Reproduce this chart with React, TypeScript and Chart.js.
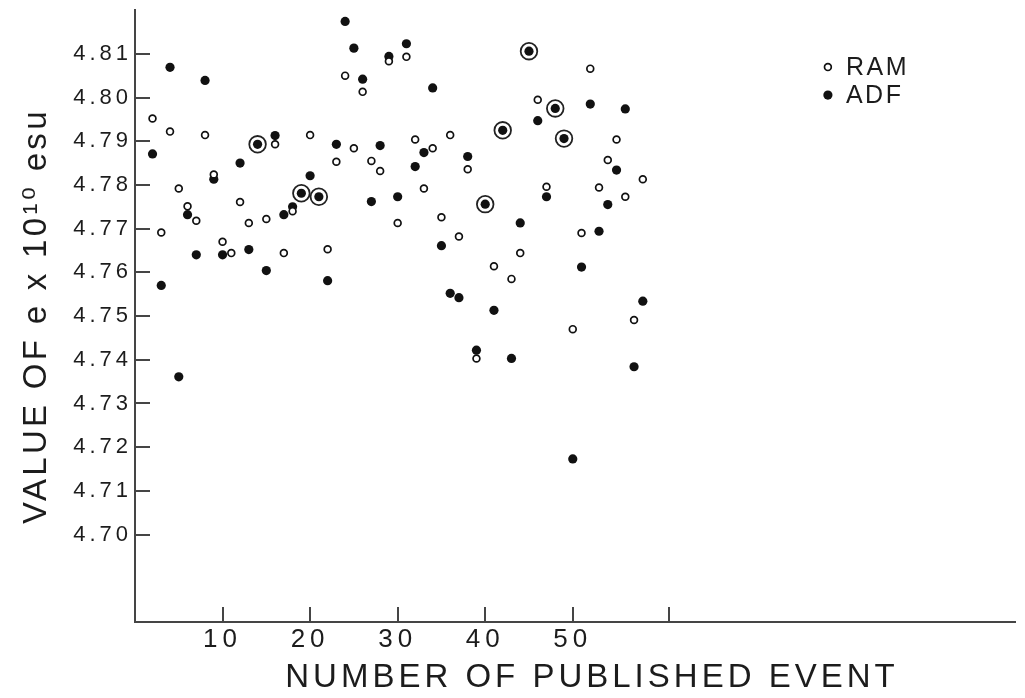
import React, { useEffect, useRef } from "react";
import { Chart, registerables } from "chart.js";

Chart.register(...registerables);

// ---- data (event number, value of e x 10^10 esu) ----
const ramEvents = [2, 3, 4, 5, 6, 7, 8, 9, 10, 11, 12, 13, 15, 16, 17, 18, 20, 22, 23, 24, 25, 26, 27, 28, 29, 30, 31, 32, 33, 34, 35, 36, 37, 38, 39, 41, 43, 44, 46, 47, 50, 51, 52, 53, 54, 55, 56, 57, 58];
const ramValues = [4.7952, 4.7691, 4.7922, 4.7792, 4.7751, 4.7718, 4.7914, 4.7824, 4.767, 4.7644, 4.7761, 4.7713, 4.7722, 4.7893, 4.7644, 4.774, 4.7914, 4.7653, 4.7853, 4.805, 4.7884, 4.8013, 4.7855, 4.7832, 4.8083, 4.7713, 4.8093, 4.7904, 4.7792, 4.7884, 4.7726, 4.7914, 4.7682, 4.7836, 4.7403, 4.7614, 4.7585, 4.7644, 4.7995, 4.7796, 4.747, 4.769, 4.8066, 4.7794, 4.7857, 4.7904, 4.7773, 4.7491, 4.7813];

const adfEvents = [2, 3, 4, 5, 6, 7, 8, 9, 10, 12, 13, 15, 16, 17, 18, 20, 22, 23, 24, 25, 26, 27, 28, 29, 30, 31, 32, 33, 34, 35, 36, 37, 38, 39, 41, 43, 44, 46, 47, 50, 51, 52, 53, 54, 55, 56, 57, 58];
const adfValues = [4.7871, 4.757, 4.8069, 4.7361, 4.7732, 4.764, 4.8039, 4.7813, 4.764, 4.785, 4.7652, 4.7604, 4.7913, 4.7732, 4.775, 4.7821, 4.7581, 4.7893, 4.8174, 4.8113, 4.8042, 4.7762, 4.789, 4.8094, 4.7773, 4.8123, 4.7842, 4.7874, 4.8022, 4.7661, 4.7552, 4.7542, 4.7865, 4.7422, 4.7513, 4.7403, 4.7713, 4.7947, 4.7773, 4.7173, 4.7612, 4.7985, 4.7694, 4.7755, 4.7834, 4.7974, 4.7384, 4.7534];

// events where RAM and ADF coincide (ringed dots)
const bothEvents = [14, 19, 21, 40, 42, 45, 48, 49];
const bothValues = [4.7893, 4.7781, 4.7773, 4.7756, 4.7925, 4.8106, 4.7975, 4.7906];

const xTickValues = [10, 20, 30, 40, 50, 61];
const xTickLabels = ["10", "20", "30", "40", "50", ""];
const yTickValues = [4.7, 4.71, 4.72, 4.73, 4.74, 4.75, 4.76, 4.77, 4.78, 4.79, 4.8, 4.81];
const yTickLabels = ["4.70", "4.71", "4.72", "4.73", "4.74", "4.75", "4.76", "4.77", "4.78", "4.79", "4.80", "4.81"];

const seriesLabels = ["RAM", "ADF"];
const xTitle = "NUMBER OF PUBLISHED EVENT";
const yTitle = "VALUE OF e x 10\u00B9\u2070 esu";

const FONT = '"Liberation Sans", "DejaVu Sans", Arial, sans-serif';
const INK = "#1c1c1c";
const AXIS = "#454545";

const pts = (xs: number[], ys: number[]) => xs.map((x, i) => ({ x, y: ys[i] }));

function withSpacing(ctx: CanvasRenderingContext2D, px: number, fn: () => void) {
  const c: any = ctx;
  const prev = c.letterSpacing;
  c.letterSpacing = px + "px";
  fn();
  c.letterSpacing = prev || "0px";
}

const spacingPlugin = {
  id: "letterSpacingPatch",
  beforeDraw(chart: any) {
    const ctx = chart.ctx;
    const cfg: Record<string, { tick: number; title: number; shift: number }> = {
      x: { tick: 5, title: 4, shift: 17 },
      y: { tick: 4, title: 3.3, shift: 0 },
    };
    Object.keys(cfg).forEach((id) => {
      const s = chart.scales[id];
      if (!s || s._lsPatched) return;
      const c = cfg[id];
      const dl = s.drawLabels.bind(s);
      const dt = s.drawTitle.bind(s);
      s.drawLabels = (area: any) => withSpacing(ctx, c.tick, () => dl(area));
      s.drawTitle = () =>
        withSpacing(ctx, c.title, () => {
          ctx.save();
          ctx.translate(c.shift, 0);
          dt();
          ctx.restore();
        });
      s._lsPatched = true;
    });
  },
};

const legendPlugin = {
  id: "cornerLegend",
  afterDraw(chart: any) {
    const { ctx, chartArea } = chart;
    const mx = chartArea.right - 187;
    let y = chartArea.top + 57;
    ctx.save();
    ctx.font = `25px ${FONT}`;
    ctx.textBaseline = "middle";
    ctx.textAlign = "left";
    chart.data.datasets.slice(0, 2).forEach((ds: any) => {
      ctx.beginPath();
      ctx.arc(mx, y, ds.pointRadius, 0, Math.PI * 2);
      ctx.fillStyle = ds.pointBackgroundColor;
      ctx.fill();
      if (ds.pointBorderWidth > 0) {
        ctx.lineWidth = ds.pointBorderWidth;
        ctx.strokeStyle = ds.pointBorderColor;
        ctx.stroke();
      }
      ctx.fillStyle = INK;
      withSpacing(ctx, 2.5, () => ctx.fillText(ds.label, mx + 18, y + 1));
      y += 28;
    });
    ctx.restore();
  },
};

const noPad = (s: any) => {
  s.paddingTop = 0;
  s.paddingBottom = 0;
  s.paddingLeft = 0;
  s.paddingRight = 0;
};

export default function App() {
  const ref = useRef<HTMLCanvasElement | null>(null);

  useEffect(() => {
    document.body.style.margin = "0";
    const canvas = ref.current;
    if (!canvas) return;

    const tickGrid = {
      drawOnChartArea: false,
      drawTicks: true,
      tickLength: -15,
      color: AXIS,
      lineWidth: 2,
    };
    const border = { display: true, color: AXIS, width: 2 };

    const chart = new Chart(canvas, {
      type: "scatter",
      data: {
        datasets: [
          {
            label: seriesLabels[0],
            data: pts(ramEvents, ramValues),
            pointRadius: 3.4,
            pointBorderWidth: 1.7,
            pointBackgroundColor: "#ffffff",
            pointBorderColor: "#111111",
            showLine: false,
          } as any,
          {
            label: seriesLabels[1],
            data: pts(adfEvents, adfValues),
            pointRadius: 4.6,
            pointBorderWidth: 0,
            pointBackgroundColor: "#111111",
            pointBorderColor: "#111111",
            showLine: false,
          },
          {
            label: "both",
            data: pts(bothEvents, bothValues),
            pointRadius: 4.6,
            pointBorderWidth: 0,
            pointBackgroundColor: "#111111",
            pointBorderColor: "#111111",
            showLine: false,
          },
          {
            label: "both-ring",
            data: pts(bothEvents, bothValues),
            pointRadius: 8.3,
            pointBorderWidth: 1.8,
            pointBackgroundColor: "rgba(0,0,0,0)",
            pointBorderColor: "#222222",
            showLine: false,
          },
        ],
      },
      options: {
        animation: false,
        responsive: false,
        devicePixelRatio: 1,
        events: [],
        layout: { padding: { left: 0, top: 7, right: 4, bottom: 0 } },
        plugins: {
          legend: { display: false },
          tooltip: { enabled: false },
          title: { display: false },
        },
        scales: {
          x: {
            type: "linear",
            min: 0,
            max: 100.5,
            afterBuildTicks: (s: any) => {
              s.ticks = xTickValues.map((v) => ({ value: v }));
            },
            afterFit: (s: any) => {
              s.height = 76;
              noPad(s);
            },
            ticks: {
              callback: (_v: any, i: number) => xTickLabels[i],
              font: { family: FONT, size: 26 },
              color: INK,
              padding: 17,
              maxRotation: 0,
              autoSkip: false,
            },
            grid: tickGrid,
            border,
            title: {
              display: true,
              text: xTitle,
              font: { family: FONT, size: 33 },
              color: INK,
              padding: { top: 0, bottom: 0 },
            },
          },
          y: {
            type: "linear",
            min: 4.68,
            max: 4.82,
            afterBuildTicks: (s: any) => {
              s.ticks = yTickValues.map((v) => ({ value: v }));
            },
            afterFit: (s: any) => {
              s.width = 135;
              noPad(s);
            },
            ticks: {
              callback: (_v: any, i: number) => yTickLabels[i],
              font: { family: FONT, size: 22 },
              color: INK,
              padding: 18,
              autoSkip: false,
            },
            grid: tickGrid,
            border,
            title: {
              display: true,
              text: yTitle,
              font: { family: FONT, size: 33 },
              color: INK,
              padding: { top: 17, bottom: 0 },
            },
          },
        },
      } as any,
      plugins: [spacingPlugin, legendPlugin],
    });

    return () => chart.destroy();
  }, []);

  return <canvas ref={ref} width={1025} height={698} style={{ display: "block" }} />;
}
